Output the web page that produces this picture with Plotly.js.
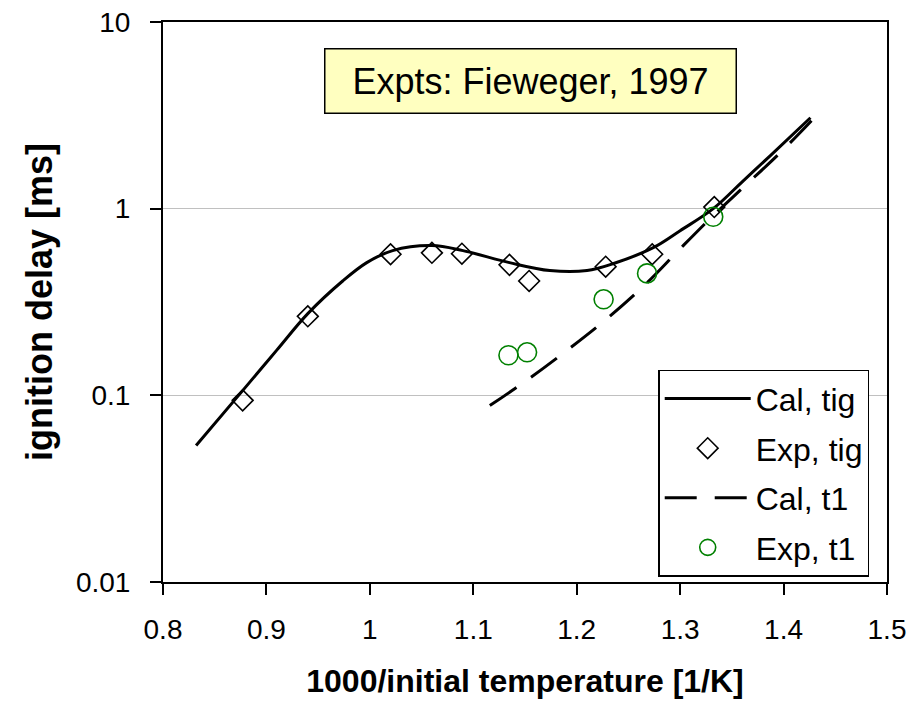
<!DOCTYPE html>
<html>
<head>
<meta charset="utf-8">
<script src="https://cdn.plot.ly/plotly-3.0.1.min.js"></script>
<style>html,body{margin:0;padding:0;background:#fff;}#chart{width:920px;height:701px;}</style>
</head>
<body>
<div id="chart"></div>
<script>
// Cal, tig (solid curve)
const calTigX = [0.832, 0.877, 0.910, 0.940, 0.974, 0.997, 1.022, 1.060, 1.090, 1.135, 1.174, 1.210, 1.235, 1.274, 1.300, 1.332, 1.361, 1.387, 1.426];
const calTigY = [0.0538, 0.106, 0.1746, 0.274, 0.411, 0.514, 0.596, 0.634, 0.596, 0.514, 0.466, 0.466, 0.507, 0.618, 0.762, 1.0, 1.41, 1.92, 3.07];
// Exp, tig (diamonds)
const expTigX = [0.877, 0.940, 1.020, 1.060, 1.089, 1.135, 1.154, 1.228, 1.273, 1.333];
const expTigY = [0.094, 0.265, 0.570, 0.580, 0.574, 0.500, 0.410, 0.489, 0.570, 1.02];
// Cal, t1 (dashed curve)
const calT1X = [1.116, 1.155, 1.194, 1.229, 1.268, 1.300, 1.332, 1.363, 1.397, 1.427];
const calT1Y = [0.0881, 0.124, 0.180, 0.257, 0.401, 0.610, 0.918, 1.33, 2.0, 2.96];
// Exp, t1 (circles)
const expT1X = [1.134, 1.152, 1.226, 1.268, 1.332];
const expT1Y = [0.164, 0.170, 0.327, 0.450, 0.905];

const xTicks = [0.8, 0.9, 1.0, 1.1, 1.2, 1.3, 1.4, 1.5];
const xTickText = ['0.8', '0.9', '1', '1.1', '1.2', '1.3', '1.4', '1.5'];
const yTicks = [0.01, 0.1, 1, 10];
const yTickText = ['0.01', '0.1', '1', '10'];

const FONT = 'Liberation Sans, Arial, sans-serif';

const traces = [
  {x: calTigX, y: calTigY, name: 'Cal, tig', mode: 'lines', legendgroup: 'a',
   line: {color: '#000', width: 3, shape: 'spline', smoothing: 1}},
  {x: expTigX, y: expTigY, name: 'Exp, tig', mode: 'markers', legendgroup: 'b',
   marker: {symbol: 'diamond-open', size: 16, color: '#000', line: {width: 1.6, color: '#000'}}},
  {x: calT1X, y: calT1Y, name: 'Cal, t1', mode: 'lines', legendgroup: 'c',
   line: {color: '#000', width: 3, dash: '32px,18px', shape: 'spline', smoothing: 1}},
  {x: expT1X, y: expT1Y, name: 'Exp, t1', mode: 'markers', legendgroup: 'd',
   marker: {symbol: 'circle-open', size: 19, color: '#008000', line: {width: 1.6, color: '#008000'}}}
];

const layout = {
  width: 920, height: 701,
  margin: {l: 163, r: 33, t: 22, b: 119},
  paper_bgcolor: '#fff', plot_bgcolor: '#fff',
  font: {family: FONT, color: '#000', size: 28},
  showlegend: true,
  legend: {
    x: 0.684, xanchor: 'left', y: 0.379, yanchor: 'top',
    bgcolor: '#fff', bordercolor: '#000', borderwidth: 1.5,
    font: {family: FONT, size: 32, color: '#000'},
    tracegroupgap: 5, itemwidth: 86
  },
  xaxis: {
    range: [0.8, 1.5], tickvals: xTicks, ticktext: xTickText,
    ticks: 'outside', ticklen: 11, tickwidth: 2, tickcolor: '#000',
    ticklabelstandoff: 10,
    showline: true, linecolor: '#000', linewidth: 2, mirror: true,
    showgrid: false, zeroline: false,
    tickfont: {family: FONT, size: 28, color: '#000'},
    title: {text: '<b>1000/initial temperature [1/K]</b>', font: {family: FONT, size: 32, color: '#000'}, standoff: 26}
  },
  yaxis: {
    type: 'log', range: [-2, 1], tickvals: yTicks, ticktext: yTickText,
    ticks: 'outside', ticklen: 11, tickwidth: 2, tickcolor: '#000',
    ticklabelstandoff: 14,
    showline: true, linecolor: '#000', linewidth: 2, mirror: true,
    showgrid: true, gridcolor: '#c0c0c0', gridwidth: 1.5, zeroline: false,
    tickfont: {family: FONT, size: 28, color: '#000'},
    title: {text: '<b>ignition delay [ms]</b>', font: {family: FONT, size: 36, color: '#000'}, standoff: 12}
  },
  annotations: [{
    xref: 'paper', yref: 'paper', x: 0.507, y: 0.894, xanchor: 'center', yanchor: 'middle',
    text: 'Expts: Fieweger, 1997', showarrow: false,
    font: {family: FONT, size: 36, color: '#000'},
    bgcolor: '#ffffc0', bordercolor: '#000', borderwidth: 1.5, borderpad: 5,
    width: 400, height: 53
  }]
};

Plotly.newPlot('chart', traces, layout, {staticPlot: true, displayModeBar: false});
</script>
</body>
</html>
